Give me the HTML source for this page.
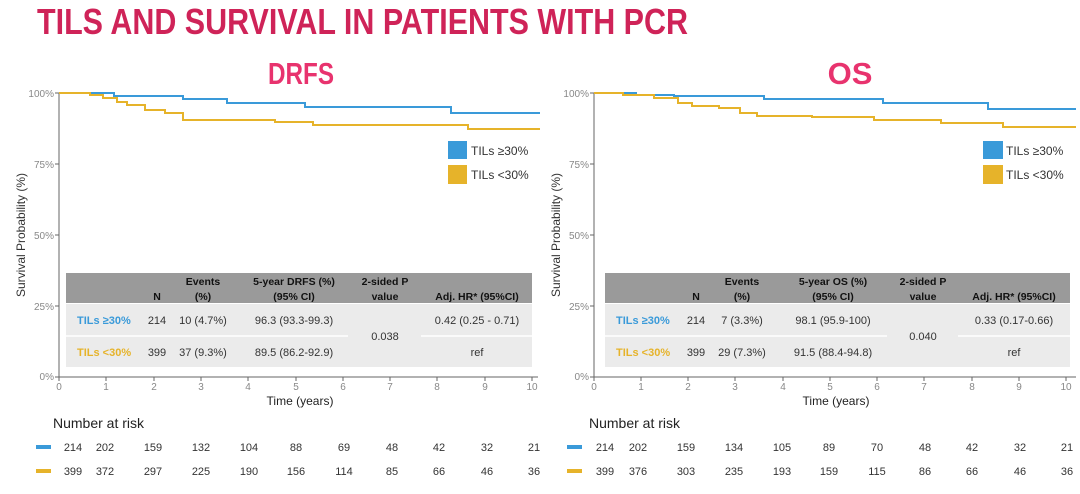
<!DOCTYPE html>
<html><head><meta charset="utf-8"><style>
body{margin:0;background:#fff;}
svg{display:block;font-family:"Liberation Sans",sans-serif;}
</style></head><body>
<svg width="1080" height="494" viewBox="0 0 1080 494">
<text x="37" y="34" font-size="36" font-weight="bold" fill="#cf2358" textLength="651" lengthAdjust="spacingAndGlyphs">TILS AND SURVIVAL IN PATIENTS WITH PCR</text>
<text x="301" y="84" font-size="31" font-weight="bold" fill="#e8336e" text-anchor="middle" textLength="66" lengthAdjust="spacingAndGlyphs">DRFS</text>
<text x="850" y="84" font-size="31" font-weight="bold" fill="#e8336e" text-anchor="middle">OS</text>

<!-- LEFT PANEL -->
<g>
<text transform="translate(25,235) rotate(-90)" font-size="12" fill="#333" text-anchor="middle">Survival Probability (%)</text>
<g font-size="10" fill="#888" text-anchor="end">
<text x="54" y="97">100%</text><text x="54" y="168">75%</text><text x="54" y="239">50%</text><text x="54" y="310">25%</text><text x="54" y="380">0%</text></g>
<path d="M59,93V377H538 M55,93H59 M55,164H59 M55,235H59 M55,306H59 M55,377H59" stroke="#666" fill="none"/>
<g stroke="#666"><line x1="59" y1="377" x2="59" y2="381"/><line x1="106" y1="377" x2="106" y2="381"/><line x1="154" y1="377" x2="154" y2="381"/><line x1="201" y1="377" x2="201" y2="381"/><line x1="248" y1="377" x2="248" y2="381"/><line x1="296" y1="377" x2="296" y2="381"/><line x1="343" y1="377" x2="343" y2="381"/><line x1="390" y1="377" x2="390" y2="381"/><line x1="437" y1="377" x2="437" y2="381"/><line x1="485" y1="377" x2="485" y2="381"/><line x1="532" y1="377" x2="532" y2="381"/></g>
<g font-size="10" fill="#888" text-anchor="middle"><text x="59" y="390">0</text><text x="106" y="390">1</text><text x="154" y="390">2</text><text x="201" y="390">3</text><text x="248" y="390">4</text><text x="296" y="390">5</text><text x="343" y="390">6</text><text x="390" y="390">7</text><text x="437" y="390">8</text><text x="485" y="390">9</text><text x="532" y="390">10</text></g>
<text x="300" y="405" font-size="12" fill="#222" text-anchor="middle">Time (years)</text>
<path d="M59,93H114V96H183V99H227V103H305V107H451V113H540" stroke="#3a9ad9" stroke-width="2" fill="none"/>
<path d="M59,93H90V95H103V98H117V102H127V105H145V110H165V113H183V120H275V122H313V125H468V129H540" stroke="#e6b32a" stroke-width="2" fill="none"/>
<rect x="448" y="141" width="19" height="18" fill="#3a9ad9"/><rect x="448" y="165" width="19" height="19" fill="#e6b32a"/>
<text x="471" y="155" font-size="12" fill="#333">TILs ≥30%</text><text x="471" y="179" font-size="12" fill="#333">TILs &lt;30%</text>
<rect x="66" y="273" width="466" height="30" fill="#9a9a9a"/>
<rect x="66" y="304" width="466" height="63" fill="#ebebeb"/>
<path d="M66,336H348 M421,336H532" stroke="#fff" stroke-width="1.5"/>
<g font-size="10.5" font-weight="bold" fill="#111" text-anchor="middle">
<text x="157" y="300">N</text><text x="203" y="285">Events</text><text x="203" y="300">(%)</text>
<text x="294" y="285">5-year DRFS (%)</text><text x="294" y="300">(95% CI)</text>
<text x="385" y="285">2-sided P</text><text x="385" y="300">value</text><text x="477" y="300">Adj. HR* (95%CI)</text></g>
<g font-size="11" fill="#333" text-anchor="middle">
<text x="77" y="324" text-anchor="start" fill="#3a9ad9" font-weight="bold">TILs ≥30%</text>
<text x="77" y="356" text-anchor="start" fill="#e6b32a" font-weight="bold">TILs &lt;30%</text>
<text x="157" y="324">214</text><text x="203" y="324">10 (4.7%)</text><text x="294" y="324">96.3 (93.3-99.3)</text><text x="477" y="324">0.42 (0.25 - 0.71)</text>
<text x="157" y="356">399</text><text x="203" y="356">37 (9.3%)</text><text x="294" y="356">89.5 (86.2-92.9)</text><text x="477" y="356">ref</text>
<text x="385" y="340">0.038</text></g>
</g>

<!-- RIGHT PANEL -->
<g>
<text transform="translate(560,235) rotate(-90)" font-size="12" fill="#333" text-anchor="middle">Survival Probability (%)</text>
<g font-size="10" fill="#888" text-anchor="end">
<text x="589" y="97">100%</text><text x="589" y="168">75%</text><text x="589" y="239">50%</text><text x="589" y="310">25%</text><text x="589" y="380">0%</text></g>
<path d="M594,93V377H1076 M590,93H594 M590,164H594 M590,235H594 M590,306H594 M590,377H594" stroke="#666" fill="none"/>
<g stroke="#666"><line x1="594" y1="377" x2="594" y2="381"/><line x1="641" y1="377" x2="641" y2="381"/><line x1="688" y1="377" x2="688" y2="381"/><line x1="735" y1="377" x2="735" y2="381"/><line x1="783" y1="377" x2="783" y2="381"/><line x1="830" y1="377" x2="830" y2="381"/><line x1="877" y1="377" x2="877" y2="381"/><line x1="924" y1="377" x2="924" y2="381"/><line x1="972" y1="377" x2="972" y2="381"/><line x1="1019" y1="377" x2="1019" y2="381"/><line x1="1066" y1="377" x2="1066" y2="381"/></g>
<g font-size="10" fill="#888" text-anchor="middle"><text x="594" y="390">0</text><text x="641" y="390">1</text><text x="688" y="390">2</text><text x="735" y="390">3</text><text x="783" y="390">4</text><text x="830" y="390">5</text><text x="877" y="390">6</text><text x="924" y="390">7</text><text x="972" y="390">8</text><text x="1019" y="390">9</text><text x="1066" y="390">10</text></g>
<text x="836" y="405" font-size="12" fill="#222" text-anchor="middle">Time (years)</text>
<path d="M594,93H636V95H674V96H764V99H883V103H988V109H1076" stroke="#3a9ad9" stroke-width="2" fill="none"/>
<path d="M594,93H623V95H654V98H678V103H692V106H719V108H740V113H757V116H812V117H874V120H941V123H1003V127H1076" stroke="#e6b32a" stroke-width="2" fill="none"/>
<rect x="983" y="141" width="20" height="18" fill="#3a9ad9"/><rect x="983" y="165" width="20" height="19" fill="#e6b32a"/>
<text x="1006" y="155" font-size="12" fill="#333">TILs ≥30%</text><text x="1006" y="179" font-size="12" fill="#333">TILs &lt;30%</text>
<rect x="605" y="273" width="465" height="30" fill="#9a9a9a"/>
<rect x="605" y="304" width="465" height="63" fill="#ebebeb"/>
<path d="M605,336H887 M958,336H1070" stroke="#fff" stroke-width="1.5"/>
<g font-size="10.5" font-weight="bold" fill="#111" text-anchor="middle">
<text x="696" y="300">N</text><text x="742" y="285">Events</text><text x="742" y="300">(%)</text>
<text x="833" y="285">5-year OS (%)</text><text x="833" y="300">(95% CI)</text>
<text x="923" y="285">2-sided P</text><text x="923" y="300">value</text><text x="1014" y="300">Adj. HR* (95%CI)</text></g>
<g font-size="11" fill="#333" text-anchor="middle">
<text x="616" y="324" text-anchor="start" fill="#3a9ad9" font-weight="bold">TILs ≥30%</text>
<text x="616" y="356" text-anchor="start" fill="#e6b32a" font-weight="bold">TILs &lt;30%</text>
<text x="696" y="324">214</text><text x="742" y="324">7 (3.3%)</text><text x="833" y="324">98.1 (95.9-100)</text><text x="1014" y="324">0.33 (0.17-0.66)</text>
<text x="696" y="356">399</text><text x="742" y="356">29 (7.3%)</text><text x="833" y="356">91.5 (88.4-94.8)</text><text x="1014" y="356">ref</text>
<text x="923" y="340">0.040</text></g>
</g>

<!-- Number at risk -->
<text x="53" y="428" font-size="14" fill="#222">Number at risk</text>
<text x="589" y="428" font-size="14" fill="#222">Number at risk</text>
<rect x="36" y="445" width="15" height="4" fill="#3a9ad9"/><rect x="36" y="469" width="15" height="4" fill="#e6b32a"/>
<rect x="567" y="445" width="15" height="4" fill="#3a9ad9"/><rect x="567" y="469" width="15" height="4" fill="#e6b32a"/>
<g font-size="11" fill="#333" text-anchor="middle">
<text x="73" y="451">214</text><text x="105" y="451">202</text><text x="153" y="451">159</text><text x="201" y="451">132</text><text x="249" y="451">104</text><text x="296" y="451">88</text><text x="344" y="451">69</text><text x="392" y="451">48</text><text x="439" y="451">42</text><text x="487" y="451">32</text><text x="534" y="451">21</text>
<text x="73" y="475">399</text><text x="105" y="475">372</text><text x="153" y="475">297</text><text x="201" y="475">225</text><text x="249" y="475">190</text><text x="296" y="475">156</text><text x="344" y="475">114</text><text x="392" y="475">85</text><text x="439" y="475">66</text><text x="487" y="475">46</text><text x="534" y="475">36</text>
<text x="605" y="451">214</text><text x="638" y="451">202</text><text x="686" y="451">159</text><text x="734" y="451">134</text><text x="782" y="451">105</text><text x="829" y="451">89</text><text x="877" y="451">70</text><text x="925" y="451">48</text><text x="972" y="451">42</text><text x="1020" y="451">32</text><text x="1067" y="451">21</text>
<text x="605" y="475">399</text><text x="638" y="475">376</text><text x="686" y="475">303</text><text x="734" y="475">235</text><text x="782" y="475">193</text><text x="829" y="475">159</text><text x="877" y="475">115</text><text x="925" y="475">86</text><text x="972" y="475">66</text><text x="1020" y="475">46</text><text x="1067" y="475">36</text>
</g>
</svg>
</body></html>
